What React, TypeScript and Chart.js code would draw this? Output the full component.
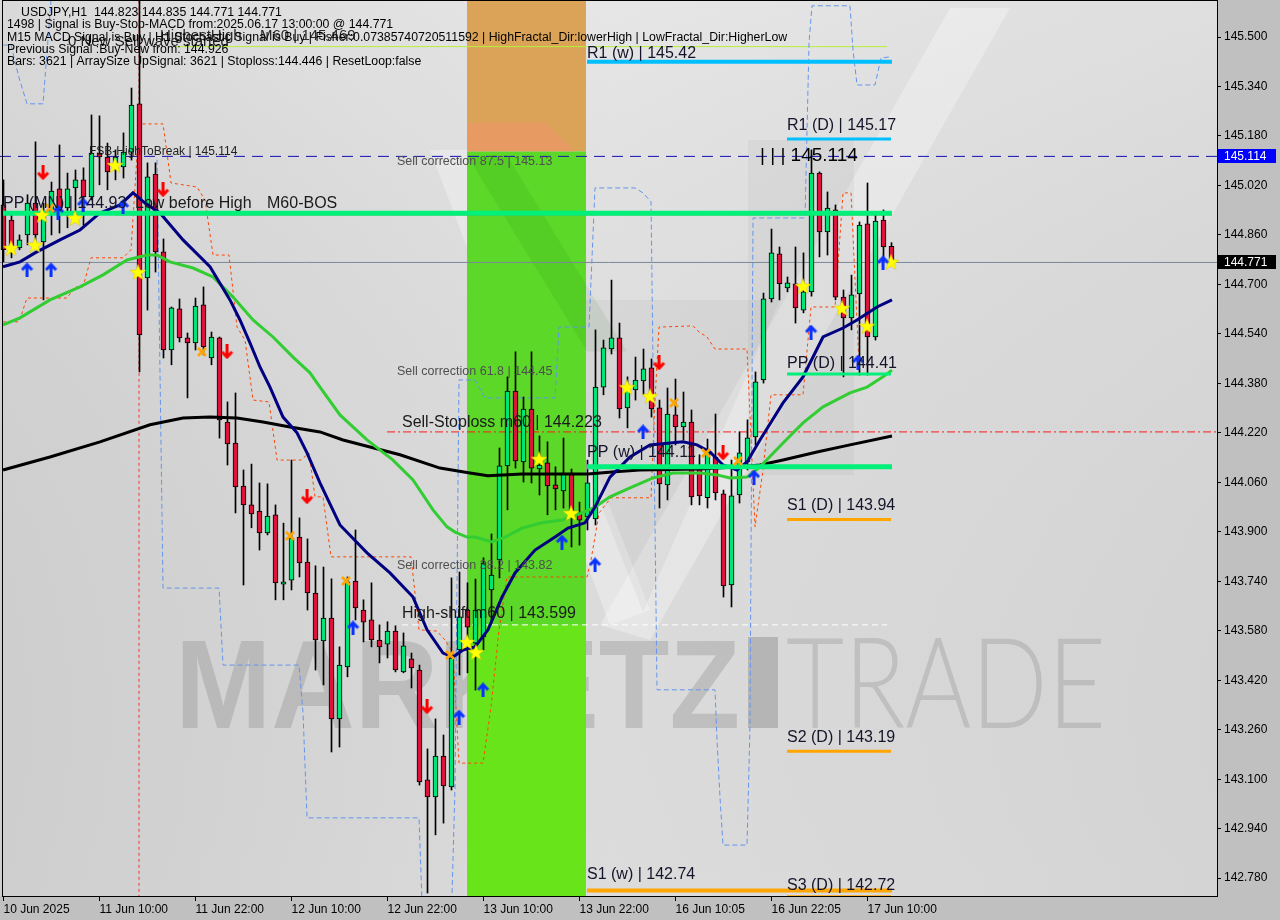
import React, { useEffect, useRef } from "react";
import { Chart, registerables } from "chart.js";

Chart.register(...registerables);

// ---------------- data ----------------
const xTickBars = [0, 12, 24, 36, 48, 60, 72, 84, 96, 108];
const xTickLabels = ["10 Jun 2025", "11 Jun 10:00", "11 Jun 22:00", "12 Jun 10:00", "12 Jun 22:00", "13 Jun 10:00", "13 Jun 22:00", "16 Jun 10:05", "16 Jun 22:05", "17 Jun 10:00"];
const yTickValues = [145.5, 145.34, 145.18, 145.02, 144.86, 144.7, 144.54, 144.38, 144.22, 144.06, 143.9, 143.74, 143.58, 143.42, 143.26, 143.1, 142.94, 142.78];

const opens = [144.957, 144.908, 144.818, 144.860, 144.963, 144.837, 144.931, 145.009, 144.947, 145.012, 145.038, 144.983, 145.125, 145.112, 145.070, 145.080, 145.128, 145.284, 144.721, 145.057, 144.805, 144.488, 144.621, 144.527, 144.511, 144.634, 144.462, 144.527, 144.255, 144.187, 144.048, 143.987, 143.967, 143.896, 143.955, 143.731, 143.744, 143.883, 143.802, 143.702, 143.547, 143.621, 143.295, 143.463, 143.741, 143.647, 143.615, 143.550, 143.537, 143.579, 143.447, 143.489, 143.453, 143.098, 143.043, 143.175, 143.075, 143.518, 143.647, 143.540, 143.560, 143.712, 143.809, 144.113, 144.355, 144.126, 144.297, 144.103, 144.123, 144.052, 144.032, 144.090, 143.958, 143.948, 143.942, 144.368, 144.491, 144.527, 144.301, 144.359, 144.388, 144.430, 144.301, 144.052, 144.278, 144.239, 144.255, 144.116, 144.010, 144.142, 144.023, 143.728, 144.019, 144.126, 144.207, 144.391, 144.653, 144.799, 144.689, 144.702, 144.617, 144.676, 145.060, 144.870, 144.941, 144.659, 144.592, 144.669, 144.896, 144.530, 144.908, 144.823];
const highs = [145.038, 144.931, 144.860, 144.990, 145.161, 144.963, 145.031, 145.151, 145.060, 145.070, 145.077, 145.248, 145.245, 145.157, 145.135, 145.190, 145.335, 145.650, 145.093, 145.093, 144.847, 144.627, 144.653, 144.543, 144.656, 144.692, 144.546, 144.530, 144.320, 144.349, 144.100, 144.119, 144.058, 144.055, 143.987, 143.928, 144.132, 143.945, 143.877, 143.790, 143.786, 143.748, 143.528, 143.754, 143.906, 143.680, 143.735, 143.599, 143.609, 143.596, 143.573, 143.508, 143.469, 143.198, 143.295, 143.243, 143.751, 143.770, 143.735, 143.747, 143.816, 143.893, 144.171, 144.401, 144.482, 144.336, 144.482, 144.210, 144.191, 144.110, 144.203, 144.103, 143.996, 144.132, 144.553, 144.520, 144.714, 144.575, 144.401, 144.465, 144.491, 144.459, 144.326, 144.365, 144.394, 144.352, 144.294, 144.149, 144.200, 144.281, 144.035, 144.132, 144.223, 144.262, 144.417, 144.672, 144.879, 144.821, 144.724, 144.821, 144.802, 145.135, 145.064, 144.999, 144.957, 144.682, 144.730, 144.902, 145.028, 144.925, 144.941, 144.835];
const lows = [144.773, 144.786, 144.812, 144.828, 144.828, 144.650, 144.860, 144.866, 144.883, 144.925, 144.892, 144.973, 145.022, 145.006, 145.038, 145.044, 145.102, 144.417, 144.617, 144.740, 144.462, 144.440, 144.514, 144.333, 144.488, 144.472, 144.440, 144.203, 144.116, 143.961, 143.728, 143.913, 143.841, 143.890, 143.680, 143.680, 143.712, 143.754, 143.647, 143.453, 143.405, 143.188, 143.204, 143.431, 143.615, 143.544, 143.528, 143.476, 143.492, 143.447, 143.444, 143.395, 143.081, 142.732, 142.920, 142.958, 143.065, 143.437, 143.444, 143.388, 143.518, 143.605, 143.751, 143.971, 144.106, 144.061, 144.058, 144.019, 143.955, 143.971, 143.977, 143.851, 143.857, 143.906, 143.922, 144.343, 144.475, 144.268, 144.236, 144.326, 144.343, 144.271, 143.977, 144.003, 144.181, 144.197, 143.987, 143.987, 143.977, 144.003, 143.689, 143.657, 143.993, 144.100, 144.181, 144.381, 144.643, 144.650, 144.676, 144.575, 144.608, 144.662, 144.789, 144.795, 144.650, 144.401, 144.553, 144.407, 144.407, 144.520, 144.789, 144.771];
const closes = [144.812, 144.802, 144.844, 144.963, 144.860, 144.931, 145.002, 144.947, 145.009, 145.038, 144.983, 145.125, 145.112, 145.064, 145.112, 145.128, 145.280, 144.537, 145.048, 144.805, 144.488, 144.624, 144.527, 144.511, 144.630, 144.498, 144.530, 144.262, 144.184, 144.045, 143.987, 143.958, 143.896, 143.951, 143.735, 143.738, 143.880, 143.799, 143.702, 143.550, 143.621, 143.295, 143.469, 143.738, 143.654, 143.608, 143.550, 143.528, 143.579, 143.453, 143.531, 143.460, 143.091, 143.043, 143.175, 143.078, 143.492, 143.625, 143.592, 143.647, 143.799, 143.760, 144.113, 144.355, 144.129, 144.297, 144.106, 144.116, 144.048, 144.039, 144.090, 143.948, 143.938, 144.058, 144.368, 144.495, 144.527, 144.297, 144.368, 144.391, 144.427, 144.297, 144.055, 144.281, 144.239, 144.255, 144.013, 144.016, 144.165, 144.026, 143.725, 144.016, 144.155, 144.204, 144.385, 144.653, 144.802, 144.702, 144.705, 144.624, 144.676, 145.060, 144.870, 144.947, 144.659, 144.592, 144.666, 144.892, 144.530, 144.905, 144.821, 144.771];

// moving averages (bar position, price)
const maFastX = [-0.06, 2.06, 3.94, 7.06, 9.56, 12.06, 14.56, 16.19, 17.69, 19.56, 22.44, 25.81, 28.31, 29.56, 30.81, 32.06, 33.31, 34.94, 36.69, 37.94, 39.56, 42.06, 45.44, 48.31, 51.19, 52.94, 54.94, 56.19, 57.44, 58.94, 60.56, 62.31, 63.94, 66.44, 68.94, 70.56, 72.69, 73.94, 75.81, 78.31, 80.81, 83.31, 84.94, 86.69, 88.31, 89.94, 91.69, 92.94, 94.56, 97.44, 99.94, 102.44, 104.94, 106.69, 109.19, 111.06];
const maFastY = [144.757, 144.773, 144.802, 144.844, 144.876, 144.931, 144.957, 144.996, 144.963, 144.931, 144.844, 144.757, 144.650, 144.585, 144.511, 144.433, 144.368, 144.271, 144.220, 144.155, 144.058, 143.922, 143.832, 143.767, 143.689, 143.583, 143.508, 143.495, 143.518, 143.528, 143.583, 143.689, 143.767, 143.841, 143.883, 143.912, 143.929, 143.980, 144.077, 144.142, 144.181, 144.187, 144.191, 144.181, 144.158, 144.116, 144.100, 144.126, 144.197, 144.317, 144.401, 144.530, 144.559, 144.585, 144.627, 144.650];
const maMidX = [-0.06, 2.06, 5.81, 9.56, 12.44, 15.44, 17.94, 19.19, 20.81, 23.69, 26.19, 28.69, 31.19, 33.69, 36.19, 38.31, 39.56, 42.06, 45.44, 48.69, 51.19, 53.69, 55.44, 56.44, 57.94, 58.94, 61.06, 62.69, 64.81, 67.31, 69.81, 72.31, 73.94, 75.81, 78.31, 81.19, 83.69, 87.06, 89.19, 90.81, 92.94, 94.56, 97.44, 99.94, 102.44, 105.81, 107.94, 109.94, 111.06];
const maMidY = [144.569, 144.592, 144.650, 144.692, 144.731, 144.779, 144.795, 144.795, 144.773, 144.753, 144.724, 144.659, 144.585, 144.530, 144.465, 144.414, 144.368, 144.278, 144.197, 144.132, 144.068, 143.971, 143.916, 143.899, 143.883, 143.883, 143.867, 143.883, 143.912, 143.929, 143.938, 143.961, 143.980, 144.013, 144.042, 144.074, 144.090, 144.090, 144.084, 144.074, 144.077, 144.110, 144.187, 144.252, 144.304, 144.349, 144.368, 144.401, 144.423];
const maSlowX = [-0.06, 5.81, 12.06, 18.31, 22.44, 25.81, 29.19, 32.44, 35.81, 39.56, 42.44, 49.56, 54.56, 58.31, 60.56, 64.81, 68.94, 73.06, 76.44, 79.56, 87.06, 92.06, 94.56, 97.44, 101.69, 105.81, 111.06];
const maSlowY = [144.100, 144.142, 144.191, 144.246, 144.268, 144.271, 144.268, 144.255, 144.239, 144.223, 144.197, 144.149, 144.106, 144.090, 144.081, 144.087, 144.087, 144.087, 144.094, 144.100, 144.103, 144.110, 144.116, 144.132, 144.158, 144.181, 144.210];

// stepped indicator lines
const stopStepX = [-0.06, 1.94, 2.94, 7.94, 8.94, 9.94, 10.94, 14.94, 15.94, 16.94, 19.94, 20.94, 24.19, 25.19, 26.19, 28.19, 29.19, 30.19, 31.19, 33.19, 34.19, 37.19, 38.19, 38.94, 39.94, 40.94, 50.94, 51.94, 54.19, 55.19, 56.19, 56.94, 59.94, 60.94, 61.94, 62.94, 72.94, 73.44, 74.44, 75.94, 80.94, 81.44, 81.94, 86.19, 86.94, 87.94, 88.94, 92.94, 93.94, 94.94, 95.94, 99.94, 100.94, 103.94, 104.94, 105.94, 106.94];
const stopStepY = [144.579, 144.579, 144.656, 144.656, 144.692, 144.692, 144.786, 144.786, 144.812, 145.219, 145.219, 145.028, 145.015, 144.973, 144.795, 144.795, 144.562, 144.520, 144.326, 144.320, 144.132, 144.132, 144.155, 144.013, 144.013, 143.819, 143.819, 143.583, 143.579, 143.550, 143.508, 143.152, 143.152, 143.334, 143.583, 143.754, 143.754, 143.809, 143.961, 144.010, 144.010, 144.326, 144.562, 144.566, 144.546, 144.530, 144.491, 144.491, 143.916, 144.100, 144.343, 144.343, 144.627, 144.627, 144.996, 144.996, 144.440];
const bandStepX = [-0.06, 0.94, 1.94, 2.94, 4.94, 5.94, 6.94, 17.94, 18.5, 19.19, 19.94, 26.94, 27.44, 36.94, 37.44, 37.94, 51.94, 52.44, 55.94, 56.44, 56.94, 58.94, 60.19, 68.94, 69.44, 73.19, 73.94, 78.94, 79.94, 80.94, 81.69, 88.94, 89.19, 89.56, 89.94, 92.94, 93.31, 93.69, 100.19, 100.69, 101.06, 105.81, 106.19, 106.69, 108.94, 109.69, 110.81];
const bandStepY = [145.474, 145.474, 145.368, 145.284, 145.284, 145.620, 145.717, 145.717, null, 145.103, 143.718, 143.718, 143.469, 143.469, 143.314, 142.975, 142.975, 142.612, 142.612, 143.075, 144.391, 144.391, 144.333, 144.333, 144.562, 144.562, 145.012, 145.012, 144.996, 144.967, 143.389, 143.389, 143.227, 143.042, 142.887, 142.887, 143.269, 144.915, 144.915, 145.481, 145.601, 145.601, 145.458, 145.345, 145.345, 145.432, 145.436];

// signal markers
const starX = [0.94, 3.94, 4.81, 8.94, 13.94, 16.81, 57.94, 59.06, 66.94, 70.94, 77.94, 80.81, 99.94, 104.81, 107.94, 110.94];
const starY = [144.818, 144.828, 144.925, 144.915, 145.086, 144.740, 143.544, 143.511, 144.136, 143.961, 144.368, 144.339, 144.695, 144.624, 144.566, 144.773];
const crossX = [5.81, 24.81, 35.81, 42.81, 55.81, 83.81, 87.81, 91.81];
const crossY = [144.947, 144.482, 143.887, 143.741, 143.502, 144.317, 144.155, 144.129];
const upX = [2.94, 5.94, 6.81, 9.94, 14.94, 43.69, 56.94, 59.94, 69.81, 73.94, 79.94, 93.81, 100.94, 106.81, 109.94];
const upY = [144.747, 144.747, 144.934, 144.957, 144.951, 143.589, 143.301, 143.389, 143.867, 143.793, 144.223, 144.077, 144.546, 144.449, 144.770];
const downX = [4.94, 19.94, 27.94, 37.94, 52.94, 81.94, 89.94];
const downY = [145.061, 145.006, 144.482, 144.013, 143.334, 144.446, 144.155];

// pivot levels
const pivotNames = ["R1 (w)", "R1 (D)", "PP (MN)", "PP (D)", "PP (w)", "S1 (D)", "S2 (D)", "S1 (w)", "S3 (D)"];
const pivotValues = [145.42, 145.17, 144.93, 144.41, 144.11, 143.94, 143.19, 142.74, 142.72];
const pivotFrom = [72.94, 97.94, -0.06, 97.94, 72.94, 97.94, 97.94, 72.94, 97.94];
const pivotTo = [111.06, 110.94, 111.06, 110.94, 111.06, 110.94, 110.94, 111.06, 110.94];

// other levels
const fsbLevel = 145.114;
const lastPrice = 144.771;
const stoplossLevel = 144.223;
const highShiftLevel = 143.599;
const highestHighLevel = 145.469;
const bosLevel = 144.925;
const signalBar = 16.94;

// time zone box (bars) and its price bands
const zoneStart = 57.94;
const zoneEnd = 72.81;
const zoneBounds = [145.7, 145.13, 143.599, 142.6];

// chart texts: [text, bar, price]
const noteTexts: [string, number, number][] = [
  ["Low before High", 16.44, 144.947],
  ["M60-BOS", 32.94, 144.947],
  ["Sell-Stoploss m60 | 144.223", 49.81, 144.239],
  ["High-shift m60 | 143.599", 49.81, 143.621],
  ["0 New Sell wave started", 8.06, 145.471],
  ["HighestHigh", 19.56, 145.491],
  ["M60 | 145.469", 32.06, 145.491],
];
const smallTexts: [string, number, number][] = [
  ["Sell correction 87.5 | 145.13", 49.19, 145.086],
  ["Sell correction 61.8 | 144.45", 49.19, 144.407],
  ["Sell correction 38.2 | 143.82", 49.19, 143.780],
];
const fsbText = "FSB-HighToBreak | 145.114";
const fsbTextAt = [10.69, 145.119];
const breakText = "| | | 145.114";
const breakTextAt = [94.56, 145.099];

const infoLines = [
  "USDJPY,H1  144.823 144.835 144.771 144.771",
  "1498 | Signal is Buy-Stop-MACD from:2025.06.17 13:00:00 @ 144.771",
  "M15 MACD Signal is Buy | H1 Stochastic Signal is Buy | Fisher:0.07385740720511592 | HighFractal_Dir:lowerHigh | LowFractal_Dir:HigherLow",
  "Previous Signal :Buy-New from: 144.926",
  "Bars: 3621 | ArraySize UpSignal: 3621 | Stoploss:144.446 | ResetLoop:false",
];

// ---------------- styles ----------------
const FONT = '"Liberation Sans", Arial, sans-serif';
const BULL = "#00e676";
const BEAR = "#dc143c";
const pivotColors = ["#00bfff", "#00bfff", "#00f07a", "#00f07a", "#00f07a", "#ffa500", "#ffa500", "#ffa500", "#ffa500"];
const pivotWidths = [4, 3, 5, 3, 5, 3, 3, 4, 3];
const pivotTextOffsets = [-4, -9, -5, -6, -10, -9, -9, -12, -7];
const zoneColors = ["#dba358", "#5bd828", "#68e41b"];

const pts = (xs: number[], ys: (number | null)[]) => xs.map((x, i) => ({ x, y: ys[i] }));

function makeStar() {
  const c = document.createElement("canvas");
  c.width = 18; c.height = 18;
  const g = c.getContext("2d")!;
  g.beginPath();
  for (let k = 0; k < 10; k++) {
    const r = k % 2 === 0 ? 8.4 : 3.5;
    const a = -Math.PI / 2 + (k * Math.PI) / 5;
    const px = 9 + r * Math.cos(a), py = 9.8 + r * Math.sin(a);
    if (k === 0) g.moveTo(px, py); else g.lineTo(px, py);
  }
  g.closePath();
  g.fillStyle = "#ffff00";
  g.fill();
  g.strokeStyle = "rgba(220,190,0,0.8)";
  g.lineWidth = 0.6;
  g.stroke();
  return c;
}
function makeCross() {
  const c = document.createElement("canvas");
  c.width = 12; c.height = 12;
  const g = c.getContext("2d")!;
  g.strokeStyle = "#ffa500";
  g.lineWidth = 2.6;
  g.beginPath();
  g.moveTo(2, 2); g.lineTo(10, 10);
  g.moveTo(10, 2); g.lineTo(2, 10);
  g.stroke();
  return c;
}
function makeArrow(color: string, up: boolean) {
  const c = document.createElement("canvas");
  c.width = 13; c.height = 15;
  const g = c.getContext("2d")!;
  g.save();
  if (!up) { g.translate(0, 15); g.scale(1, -1); }
  g.strokeStyle = color;
  g.lineWidth = 3;
  g.lineCap = "butt";
  g.lineJoin = "miter";
  g.beginPath();
  g.moveTo(1.5, 7.5); g.lineTo(6.5, 2.2); g.lineTo(11.5, 7.5);
  g.stroke();
  g.beginPath();
  g.moveTo(6.5, 2.5); g.lineTo(6.5, 15);
  g.stroke();
  g.restore();
  return c;
}

function drawWatermark(ctx: CanvasRenderingContext2D) {
  ctx.save();
  ctx.fillStyle = "rgba(255,255,255,0.30)";
  ctx.beginPath();
  ctx.moveTo(600, 625); ctx.lineTo(950, 8); ctx.lineTo(1010, 8); ctx.lineTo(650, 640);
  ctx.closePath(); ctx.fill();
  ctx.beginPath();
  ctx.moveTo(430, 150); ctx.lineTo(470, 150); ctx.lineTo(650, 610); ctx.lineTo(610, 625);
  ctx.closePath(); ctx.fill();
  ctx.fillStyle = "rgba(0,0,0,0.035)";
  ctx.beginPath();
  ctx.moveTo(520, 300); ctx.lineTo(643, 612); ctx.lineTo(780, 300);
  ctx.closePath(); ctx.fill();
  ctx.fillRect(748, 140, 106, 335);
  ctx.fillStyle = "rgba(120,120,120,0.27)";
  ctx.font = `bold 127px ${FONT}`;
  ctx.textBaseline = "alphabetic";
  const w1 = ctx.measureText("MARKETZ").width;
  ctx.save();
  ctx.translate(175, 728);
  ctx.scale(565 / w1, 1);
  ctx.fillText("MARKETZ", 0, 0);
  ctx.restore();
  ctx.fillStyle = "rgba(100,100,100,0.30)";
  ctx.fillRect(748, 637, 30, 91);
  ctx.fillStyle = "rgba(120,120,120,0.25)";
  ctx.font = `300 127px Lato, ${FONT}`;
  const w2 = ctx.measureText("TRADE").width;
  ctx.save();
  ctx.translate(786, 728);
  ctx.scale(320 / w2, 1);
  ctx.fillText("TRADE", 0, 0);
  ctx.restore();
  ctx.restore();
}

const decorPlugin = {
  id: "decor",
  beforeDraw(chart: any) {
    const { ctx, chartArea: a, scales } = chart;
    const xs = scales.x, ys = scales.y;
    ctx.save();
    ctx.fillStyle = "#c0c0c0";
    ctx.fillRect(0, 0, chart.width, chart.height);
    const g = ctx.createLinearGradient(a.left, 0, a.right, 0);
    g.addColorStop(0, "#d5d5d5");
    g.addColorStop(0.5, "#e3e3e3");
    g.addColorStop(1, "#dbdbdb");
    ctx.fillStyle = g;
    ctx.fillRect(a.left, a.top, a.right - a.left, a.bottom - a.top);
    const gv = ctx.createLinearGradient(0, a.top, 0, a.bottom);
    gv.addColorStop(0, "rgba(255,255,255,0.10)");
    gv.addColorStop(1, "rgba(0,0,0,0.03)");
    ctx.fillStyle = gv;
    ctx.fillRect(a.left, a.top, a.right - a.left, a.bottom - a.top);
    ctx.beginPath();
    ctx.rect(a.left, a.top, a.right - a.left, a.bottom - a.top);
    ctx.clip();
    drawWatermark(ctx);
    const zl = xs.getPixelForValue(zoneStart);
    const zr = xs.getPixelForValue(zoneEnd);
    for (let k = 0; k < zoneColors.length; k++) {
      const t = ys.getPixelForValue(zoneBounds[k]);
      const b = ys.getPixelForValue(zoneBounds[k + 1]);
      ctx.fillStyle = zoneColors[k];
      ctx.fillRect(zl, t, zr - zl, b - t);
    }
    // faint logo shading inside the zone
    const zb = ys.getPixelForValue(zoneBounds[1]);
    ctx.fillStyle = "rgba(240,150,110,0.55)";
    ctx.beginPath();
    ctx.moveTo(zl, zb - 29); ctx.lineTo(zl + 78, zb - 29); ctx.lineTo(zl + 108, zb); ctx.lineTo(zl, zb);
    ctx.closePath(); ctx.fill();
    ctx.fillStyle = "rgba(0,80,0,0.07)";
    ctx.beginPath();
    ctx.moveTo(zl, zb + 4); ctx.lineTo(zl + 40, zb + 4); ctx.lineTo(zl + 160, zb + 200); ctx.lineTo(zl + 120, zb + 200);
    ctx.closePath(); ctx.fill();
    ctx.restore();
  },
  afterDatasetsDraw(chart: any) {
    const { ctx, chartArea: a, scales } = chart;
    const xs = scales.x, ys = scales.y;
    ctx.save();
    ctx.beginPath();
    ctx.rect(a.left, a.top, a.right - a.left, a.bottom - a.top);
    ctx.clip();
    ctx.textBaseline = "alphabetic";
    ctx.textAlign = "left";
    ctx.font = `16px ${FONT}`;
    ctx.fillStyle = "#14142a";
    pivotNames.forEach((n, i) => {
      const txt = `${n} | ${pivotValues[i].toFixed(2)}`;
      ctx.fillText(txt, xs.getPixelForValue(pivotFrom[i]), ys.getPixelForValue(pivotValues[i]) + pivotTextOffsets[i]);
    });
    ctx.fillStyle = "#1a1a1a";
    noteTexts.forEach(([t, bx, p], i) => {
      ctx.font = i >= 4 ? `15px ${FONT}` : `16px ${FONT}`;
      if (i >= 5) ctx.fillStyle = "#2a2a2a";
      ctx.fillText(t, xs.getPixelForValue(bx), ys.getPixelForValue(p));
    });
    ctx.font = `12.5px ${FONT}`;
    ctx.fillStyle = "#4f4f4f";
    smallTexts.forEach(([t, bx, p]) => ctx.fillText(t, xs.getPixelForValue(bx), ys.getPixelForValue(p)));
    ctx.font = `12px ${FONT}`;
    ctx.fillStyle = "#222";
    ctx.fillText(fsbText, xs.getPixelForValue(fsbTextAt[0]), ys.getPixelForValue(fsbTextAt[1]));
    ctx.font = `19px ${FONT}`;
    ctx.fillStyle = "#000";
    ctx.fillText(breakText, xs.getPixelForValue(breakTextAt[0]), ys.getPixelForValue(breakTextAt[1]));
    ctx.restore();
  },
  afterDraw(chart: any) {
    const { ctx, chartArea: a, scales } = chart;
    const ys = scales.y;
    ctx.save();
    ctx.strokeStyle = "#000";
    ctx.lineWidth = 1;
    ctx.strokeRect(2.5, 0.5, a.right - 2, a.bottom);
    ctx.font = `12.3px ${FONT}`;
    ctx.fillStyle = "#000";
    ctx.textBaseline = "middle";
    const lineY = [12.5, 25, 37.5, 50, 62];
    infoLines.forEach((t, i) => ctx.fillText(t, i === 0 ? 21 : 7, lineY[i]));
    const boxes: [number, string][] = [[fsbLevel, "#0000ff"], [lastPrice, "#000000"]];
    ctx.font = `12px ${FONT}`;
    boxes.forEach(([v, col]) => {
      const y = Math.round(ys.getPixelForValue(v));
      ctx.fillStyle = col;
      ctx.fillRect(a.right + 1, y - 7, 58, 14);
      ctx.fillStyle = "#ffffff";
      ctx.fillText(v.toFixed(3), a.right + 7, y + 0.5);
    });
    ctx.restore();
  },
};

export default function App() {
  const ref = useRef<HTMLCanvasElement>(null);
  useEffect(() => {
    document.body.style.margin = "0";
    const canvas = ref.current!;
    const star = makeStar();
    const cross = makeCross();
    const upArrow = makeArrow("#0a32ff", true);
    const downArrow = makeArrow("#ff0000", false);

    const idx = opens.map((_, i) => i);
    const wickData = idx.map((i) => ({ x: i, y: [lows[i], highs[i]] }));
    const bodyData = idx.map((i) => ({ x: i, y: [opens[i], closes[i]] }));
    const bodyColors = idx.map((i) => (closes[i] >= opens[i] ? BULL : BEAR));

    const flat = (v: number, from: number, to: number) => [{ x: from, y: v }, { x: to, y: v }];
    const lineDs = (data: any[], color: string, width: number, order: number, dash: number[] = []) => ({
      type: "line",
      data,
      borderColor: color,
      borderWidth: width,
      borderDash: dash,
      pointRadius: 0,
      fill: false,
      tension: 0,
      spanGaps: false,
      order,
    });
    const markerDs = (xs: number[], ys: number[], img: HTMLCanvasElement) => ({
      type: "scatter",
      data: pts(xs, ys),
      pointStyle: img,
      pointRadius: 5,
      showLine: false,
      order: 5,
    });

    const datasets: any[] = [
      lineDs(flat(lastPrice, -0.44, 151.69), "#7a8899", 1, 70),
      lineDs(flat(fsbLevel, -0.44, 151.69), "#1010b0", 1, 70, [11, 7]),
      lineDs(flat(stoplossLevel, 47.94, 151.69), "#ff1a1a", 1, 70, [8, 3, 2, 3]),
      lineDs(flat(highShiftLevel, 49.81, 110.44), "#ffffff", 1, 70, [6, 4]),
      lineDs(flat(highestHighLevel, 21.19, 110.44), "#b6f03c", 1, 70),
      lineDs(flat(bosLevel, 13.94, 111.06), "#ff4500", 1, 70),
      lineDs([{ x: signalBar, y: 142.6 }, { x: signalBar, y: 145.7 }], "#ff3030", 1, 70, [3, 3]),
      lineDs(pts(bandStepX, bandStepY), "#6495ed", 1, 60, [5, 3]),
      lineDs(pts(stopStepX, stopStepY), "#ff4500", 1, 60, [3, 3]),
      {
        type: "bar",
        data: wickData,
        backgroundColor: "#000",
        borderWidth: 0,
        barThickness: 1,
        grouped: false,
        order: 51,
      },
      {
        type: "bar",
        data: bodyData,
        backgroundColor: bodyColors,
        borderColor: "#000",
        borderWidth: 1,
        borderSkipped: false,
        barThickness: 5,
        grouped: false,
        order: 50,
      },
      lineDs(pts(maSlowX, maSlowY), "#000000", 3, 44),
      lineDs(pts(maMidX, maMidY), "#32cd32", 3, 43),
      lineDs(pts(maFastX, maFastY), "#000080", 3, 42),
      ...pivotValues.map((v, i) => lineDs(flat(v, pivotFrom[i], pivotTo[i]), pivotColors[i], pivotWidths[i], 30)),
      markerDs(crossX, crossY, cross),
      markerDs(upX, upY, upArrow),
      markerDs(downX, downY, downArrow),
      markerDs(starX, starY, star),
    ];

    const chart = new Chart(canvas, {
      data: { datasets },
      options: {
        animation: false,
        responsive: false,
        maintainAspectRatio: false,
        events: [],
        layout: { padding: 0, autoPadding: false },
        plugins: { legend: { display: false }, tooltip: { enabled: false } },
        scales: {
          x: {
            type: "linear",
            position: "bottom",
            offset: false,
            min: -0.4375,
            max: 151.6875,
            afterBuildTicks: (s: any) => {
              s.ticks = xTickBars.map((v) => ({ value: v }));
            },
            afterFit: (s: any) => {
              s.height = 24;
              s.paddingLeft = 0;
              s.paddingRight = 0;
            },
            ticks: {
              callback: (v: any) => {
                const k = xTickBars.indexOf(Math.round(Number(v)));
                return k >= 0 ? xTickLabels[k] : "";
              },
              align: "start",
              autoSkip: false,
              maxRotation: 0,
              minRotation: 0,
              padding: 1,
              color: "#000",
              font: { family: FONT, size: 12 },
            },
            grid: { offset: false, drawOnChartArea: false, drawTicks: true, tickLength: 5, color: "#000" },
            border: { display: false },
          },
          y: {
            type: "linear",
            position: "right",
            min: 142.7223,
            max: 145.6197,
            afterBuildTicks: (s: any) => {
              s.ticks = yTickValues.map((v) => ({ value: v }));
            },
            afterFit: (s: any) => {
              s.width = 63;
              s.paddingTop = 0;
              s.paddingBottom = 0;
            },
            ticks: {
              callback: (v: any) => Number(v).toFixed(3),
              padding: 3,
              color: "#000",
              font: { family: FONT, size: 12 },
            },
            grid: { drawOnChartArea: false, drawTicks: true, tickLength: 4, color: "#000" },
            border: { display: false },
          },
        },
      },
      plugins: [decorPlugin],
    } as any);
    return () => chart.destroy();
  }, []);
  return <canvas ref={ref} width={1280} height={920} style={{ display: "block" }} />;
}
